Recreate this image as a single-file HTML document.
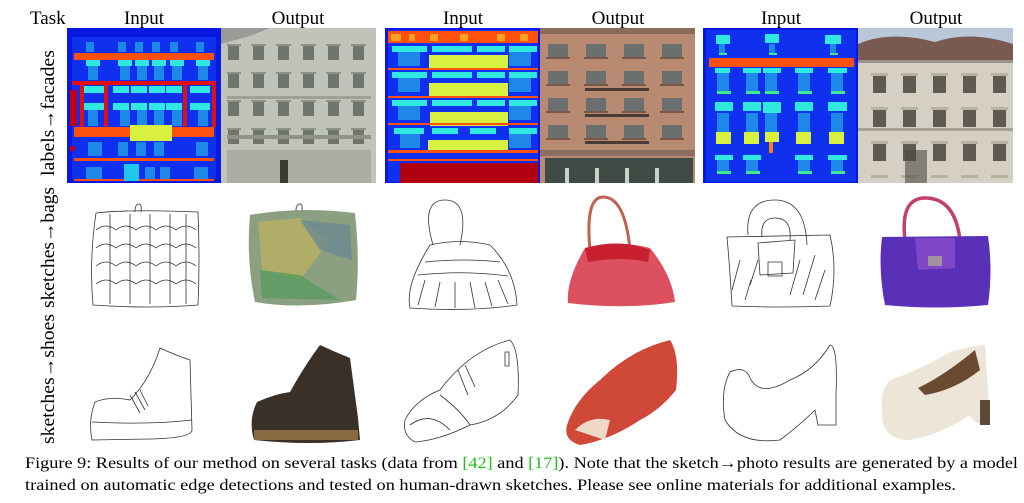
<!DOCTYPE html>
<html><head><meta charset="utf-8"><style>
html,body{margin:0;padding:0;background:#fff;width:1024px;height:503px;overflow:hidden}
svg{display:block}
text{font-family:"Liberation Serif",serif;fill:#000}
</style></head><body>
<svg width="1024" height="503" viewBox="0 0 1024 503" xmlns="http://www.w3.org/2000/svg">
<defs>
<pattern id="win1" x="221" y="40" width="25" height="28" patternUnits="userSpaceOnUse">
<rect x="7" y="6" width="11" height="14" fill="#6f756c"/><rect x="5" y="4" width="15" height="2" fill="#8d9288"/></pattern>
<pattern id="win2" x="540" y="38" width="38" height="27" patternUnits="userSpaceOnUse">
<rect x="8" y="6" width="20" height="13" fill="#6b6f70"/><rect x="6" y="19" width="24" height="2" fill="#7a5848"/></pattern>
<pattern id="win3" x="865" y="68" width="30" height="34" patternUnits="userSpaceOnUse">
<rect x="8" y="8" width="13" height="17" fill="#5d5a52"/><rect x="6" y="5" width="17" height="3" fill="#b9b2a4"/></pattern>
</defs>

<text x="30" y="24" font-size="19">Task</text>
<text x="144" y="24" font-size="19" text-anchor="middle">Input</text>
<text x="298" y="24" font-size="19" text-anchor="middle">Output</text>
<text x="463" y="24" font-size="19" text-anchor="middle">Input</text>
<text x="618" y="24" font-size="19" text-anchor="middle">Output</text>
<text x="781" y="24" font-size="19" text-anchor="middle">Input</text>
<text x="936" y="24" font-size="19" text-anchor="middle">Output</text>

<text transform="translate(54,176) rotate(-90)" font-size="19" textLength="126" lengthAdjust="spacingAndGlyphs">labels→facades</text>
<text transform="translate(54,308) rotate(-90)" font-size="19" textLength="121" lengthAdjust="spacingAndGlyphs">sketches→bags</text>
<text transform="translate(54,444) rotate(-90)" font-size="19" textLength="130" lengthAdjust="spacingAndGlyphs">sketches→shoes</text>

<!-- facade input 1 -->
<rect x="67" y="28" width="154" height="155" fill="#0818e0"/>
<rect x="72" y="37" width="144" height="143" fill="#1030f0"/>
<rect x="74" y="53" width="140" height="7" fill="#ff5010"/>
<g fill="#1e88e8"><rect x="86" y="42" width="8" height="10"/><rect x="118" y="42" width="8" height="10"/><rect x="135" y="42" width="8" height="10"/><rect x="152" y="42" width="8" height="10"/><rect x="170" y="42" width="8" height="10"/><rect x="196" y="42" width="8" height="10"/></g>
<rect x="72" y="81" width="144" height="4" fill="#e01010"/>
<rect x="80" y="81" width="4" height="46" fill="#e01010"/><rect x="104" y="81" width="4" height="46" fill="#e01010"/><rect x="183" y="81" width="4" height="46" fill="#e01010"/><rect x="212" y="81" width="4" height="46" fill="#e01010"/>
<rect x="70" y="90" width="7" height="36" fill="#c00010"/>
<g fill="#30e8e0"><rect x="84" y="86" width="20" height="7"/><rect x="113" y="86" width="16" height="7"/><rect x="131" y="86" width="16" height="7"/><rect x="149" y="86" width="16" height="7"/><rect x="166" y="86" width="16" height="7"/><rect x="190" y="86" width="20" height="7"/>
<rect x="84" y="103" width="20" height="7"/><rect x="113" y="103" width="16" height="7"/><rect x="131" y="103" width="16" height="7"/><rect x="149" y="103" width="16" height="7"/><rect x="166" y="103" width="16" height="7"/><rect x="190" y="103" width="20" height="7"/>
<rect x="86" y="60" width="14" height="6"/><rect x="118" y="60" width="14" height="6"/><rect x="135" y="60" width="14" height="6"/><rect x="152" y="60" width="14" height="6"/><rect x="170" y="60" width="14" height="6"/><rect x="196" y="60" width="14" height="6"/></g>
<g fill="#1e88e8"><rect x="88" y="66" width="10" height="14"/><rect x="120" y="66" width="10" height="14"/><rect x="137" y="66" width="10" height="14"/><rect x="154" y="66" width="10" height="14"/><rect x="172" y="66" width="10" height="14"/><rect x="198" y="66" width="10" height="14"/>
<rect x="88" y="110" width="10" height="16"/><rect x="120" y="110" width="10" height="16"/><rect x="137" y="110" width="10" height="16"/><rect x="154" y="110" width="10" height="16"/><rect x="172" y="110" width="10" height="16"/><rect x="198" y="110" width="10" height="16"/>
<rect x="88" y="142" width="14" height="14"/><rect x="118" y="142" width="10" height="14"/><rect x="136" y="142" width="10" height="14"/><rect x="154" y="142" width="10" height="14"/><rect x="196" y="142" width="12" height="14"/>
<rect x="86" y="167" width="16" height="13"/><rect x="145" y="167" width="10" height="13"/><rect x="160" y="167" width="10" height="13"/><rect x="194" y="167" width="14" height="13"/></g>
<rect x="74" y="127" width="140" height="10" fill="#ff5010"/>
<rect x="130" y="125" width="42" height="16" fill="#d8f040"/>
<rect x="74" y="158" width="140" height="3" fill="#ff5010"/>
<rect x="74" y="179" width="140" height="2" fill="#ff5010"/>
<rect x="124" y="164" width="15" height="17" fill="#20c8f0"/>
<rect x="70" y="146" width="5" height="5" fill="#c00010"/>

<!-- facade output 1 -->
<rect x="221" y="28" width="155" height="155" fill="#bfc3b9"/>
<path d="M221 28 L270 28 L250 36 L221 44Z" fill="#9a9c98"/>
<rect x="227" y="36" width="144" height="147" fill="url(#win1)"/>
<rect x="227" y="96" width="144" height="3" fill="#9ea296"/>
<rect x="227" y="135" width="144" height="4" fill="#8e9288"/>
<rect x="227" y="150" width="144" height="33" fill="#a9ada2"/>
<rect x="280" y="160" width="8" height="23" fill="#3a3a30"/>

<!-- facade input 2 -->
<rect x="385" y="28" width="155" height="155" fill="#0818e0"/>
<rect x="388" y="30" width="150" height="152" fill="#1030f0"/>
<rect x="388" y="31" width="150" height="12" fill="#ff5010"/>
<g fill="#ffa020"><rect x="391" y="34" width="10" height="7"/><rect x="409" y="34" width="6" height="7"/><rect x="430" y="34" width="8" height="7"/><rect x="460" y="34" width="8" height="7"/><rect x="497" y="34" width="8" height="7"/><rect x="520" y="34" width="8" height="7"/></g>
<g fill="#30e8e0"><rect x="392" y="46" width="35" height="6"/><rect x="432" y="46" width="40" height="6"/><rect x="477" y="46" width="28" height="6"/><rect x="509" y="46" width="28" height="6"/>
<rect x="392" y="72" width="35" height="6"/><rect x="432" y="72" width="40" height="6"/><rect x="477" y="72" width="28" height="6"/><rect x="509" y="72" width="28" height="6"/>
<rect x="392" y="100" width="35" height="6"/><rect x="432" y="100" width="40" height="6"/><rect x="477" y="100" width="28" height="6"/><rect x="509" y="100" width="28" height="6"/>
<rect x="394" y="128" width="30" height="6"/><rect x="432" y="128" width="26" height="6"/><rect x="470" y="128" width="26" height="6"/><rect x="509" y="128" width="28" height="6"/></g>
<g fill="#1e88e8"><rect x="398" y="52" width="22" height="14"/><rect x="509" y="52" width="22" height="14"/><rect x="398" y="78" width="22" height="14"/><rect x="509" y="78" width="22" height="14"/><rect x="398" y="106" width="22" height="14"/><rect x="509" y="106" width="22" height="14"/><rect x="400" y="134" width="20" height="14"/><rect x="509" y="134" width="22" height="14"/></g>
<g fill="#d8f040"><rect x="429" y="55" width="79" height="14"/><rect x="429" y="83" width="79" height="14"/><rect x="430" y="112" width="78" height="14"/><rect x="428" y="140" width="80" height="11"/></g>
<g fill="#ff5010"><rect x="388" y="68" width="150" height="2"/><rect x="388" y="96" width="150" height="2"/><rect x="388" y="123" width="150" height="2"/><rect x="388" y="150" width="150" height="3"/><rect x="388" y="159" width="150" height="2"/></g>
<rect x="400" y="163" width="138" height="20" fill="#b00010"/>

<!-- facade output 2 -->
<rect x="540" y="28" width="155" height="155" fill="#b88a72"/>
<rect x="540" y="28" width="155" height="6" fill="#8c6a58"/>
<rect x="540" y="36" width="155" height="112" fill="url(#win2)"/>
<g fill="#4a3a34"><rect x="585" y="88" width="64" height="3"/><rect x="585" y="114" width="64" height="3"/><rect x="585" y="141" width="64" height="3"/></g>
<rect x="540" y="150" width="155" height="6" fill="#8a6e60"/>
<rect x="545" y="158" width="148" height="25" fill="#3f4a44"/>
<g fill="#c8d0c8"><rect x="565" y="168" width="4" height="15"/><rect x="595" y="168" width="4" height="15"/><rect x="625" y="168" width="4" height="15"/><rect x="655" y="168" width="4" height="15"/></g>

<!-- facade input 3 -->
<rect x="703" y="28" width="155" height="155" fill="#0818e0"/>
<rect x="706" y="30" width="150" height="152" fill="#1030f0"/>
<g fill="#30e8e0"><rect x="716" y="35" width="14" height="9"/><rect x="765" y="34" width="14" height="9"/><rect x="825" y="35" width="16" height="9"/>
<rect x="715" y="68" width="15" height="5"/><rect x="743" y="68" width="18" height="5"/><rect x="763" y="68" width="18" height="5"/><rect x="795" y="68" width="18" height="5"/><rect x="828" y="68" width="19" height="5"/>
<rect x="715" y="102" width="18" height="9"/><rect x="743" y="102" width="18" height="9"/><rect x="763" y="102" width="18" height="11"/><rect x="795" y="102" width="18" height="9"/><rect x="828" y="102" width="19" height="9"/>
<rect x="715" y="155" width="18" height="5"/><rect x="743" y="155" width="18" height="5"/><rect x="795" y="155" width="18" height="5"/><rect x="828" y="155" width="19" height="5"/></g>
<g fill="#1e88e8"><rect x="719" y="44" width="6" height="9"/><rect x="769" y="44" width="6" height="9"/><rect x="830" y="44" width="6" height="9"/>
<rect x="717" y="73" width="12" height="18"/><rect x="746" y="73" width="12" height="18"/><rect x="765" y="73" width="12" height="18"/><rect x="798" y="73" width="12" height="18"/><rect x="831" y="73" width="12" height="18"/>
<rect x="717" y="113" width="12" height="19"/><rect x="746" y="113" width="12" height="19"/><rect x="765" y="113" width="12" height="19"/><rect x="798" y="113" width="12" height="19"/><rect x="831" y="113" width="12" height="19"/>
<rect x="717" y="160" width="12" height="11"/><rect x="746" y="160" width="12" height="11"/><rect x="798" y="160" width="12" height="11"/><rect x="831" y="160" width="12" height="11"/></g>
<rect x="709" y="58" width="145" height="9" fill="#ff5010"/>
<g fill="#40e890"><rect x="719" y="53" width="8" height="2"/><rect x="769" y="53" width="8" height="2"/><rect x="830" y="53" width="8" height="2"/><rect x="717" y="91" width="14" height="3"/><rect x="746" y="91" width="14" height="3"/><rect x="765" y="91" width="14" height="3"/><rect x="798" y="91" width="14" height="3"/><rect x="831" y="91" width="14" height="3"/><rect x="717" y="171" width="14" height="3"/><rect x="746" y="171" width="14" height="3"/><rect x="798" y="171" width="14" height="3"/><rect x="831" y="171" width="14" height="3"/></g>
<g fill="#d8f040"><rect x="716" y="132" width="15" height="12"/><rect x="744" y="132" width="15" height="12"/><rect x="765" y="132" width="14" height="10"/><rect x="796" y="132" width="15" height="12"/><rect x="829" y="132" width="15" height="12"/></g>
<rect x="769" y="142" width="4" height="11" fill="#ff8010"/>

<!-- facade output 3 -->
<rect x="858" y="28" width="155" height="155" fill="#d6d0c4"/>
<rect x="858" y="28" width="155" height="16" fill="#b8c8d8"/>
<path d="M858 44 Q890 30 935 42 Q970 30 1013 44 L1013 60 L858 60Z" fill="#7a5a50"/>
<rect x="858" y="60" width="155" height="3" fill="#9a9488"/>
<rect x="862" y="64" width="148" height="114" fill="url(#win3)"/>
<rect x="858" y="128" width="155" height="3" fill="#a8a296"/>
<rect x="905" y="150" width="22" height="33" fill="#4a4a40" opacity="0.6"/>

<!-- bags row -->
<g fill="none" stroke="#333" stroke-width="0.8">
<path d="M96 213 Q130 209 198 212 Q200 260 198 305 Q150 309 93 305 Q89 260 96 213Z"/>
<path d="M135 212 q0-8 4-8 q3 0 2 8"/>
<path d="M96 230 q10 -8 20 0 q10-8 20 0 q10-8 20 0 q10-8 20 0 q10-8 20 0 M96 248 q10-8 20 0 q10-8 20 0 q10-8 20 0 q10-8 20 0 q10-8 20 0 M96 266 q10-8 20 0 q10-8 20 0 q10-8 20 0 q10-8 20 0 q10-8 20 0 M96 284 q10-8 20 0 q10-8 20 0 q10-8 20 0 q10-8 20 0 q10-8 20 0 M110 214 v90 M130 214 v90 M150 214 v90 M170 214 v90 M186 214 v90"/>
<path d="M433 245 Q420 200 445 200 Q470 200 460 245"/>
<path d="M430 245 Q460 238 490 245 Q515 270 517 305 Q470 312 410 308 Q405 285 430 245Z"/>
<path d="M425 262 Q465 258 500 262 M418 275 Q465 270 508 276 M425 280 L418 305 M440 282 L435 307 M455 282 L455 308 M470 282 L475 308 M485 282 L492 306 M498 280 L508 304"/>
<path d="M727 237 L830 235 Q838 270 830 306 Q780 308 732 306 Q730 270 727 237Z"/>
<path d="M748 235 Q745 200 775 200 Q805 200 807 245 M762 237 Q760 218 775 218 Q792 218 790 240"/>
<path d="M758 243 L795 240 L793 273 L760 275Z M768 262 h14 v14 h-14z"/>
<path d="M740 260 l-8 30 M750 285 l8-25 M800 260 l-10 35 M815 255 l-12 40 M825 270 l-10 30 M745 300 l6-20"/>
</g>
<path d="M250 215 Q300 206 355 213 Q360 260 356 300 Q300 310 255 302 Q246 260 250 215Z" fill="#8aa080"/>
<path d="M258 222 L300 218 L330 240 L300 280 L262 270Z" fill="#b8b060" opacity="0.8"/>
<path d="M300 220 L350 225 L352 260 L320 250Z" fill="#6a8890" opacity="0.8"/>
<path d="M260 270 L300 275 L340 300 L262 298Z" fill="#5a9a60" opacity="0.8"/>
<path d="M296 212 q0-8 4-8 q3 0 2 8" fill="none" stroke="#888" stroke-width="1.5"/>
<path d="M590 250 Q585 197 603 197 Q625 197 630 250" fill="none" stroke="#c06050" stroke-width="3"/>
<path d="M585 248 Q620 240 650 248 Q672 275 675 302 Q625 310 568 303 Q566 280 585 248Z" fill="#dc5060"/>
<path d="M585 248 Q620 238 650 250 L648 262 Q620 256 588 262Z" fill="#c82030"/>
<path d="M905 240 Q900 198 925 198 Q955 198 960 240" fill="none" stroke="#c04070" stroke-width="3.5"/>
<path d="M882 237 L988 236 Q993 270 988 305 Q935 310 885 305 Q878 270 882 237Z" fill="#5a30b8"/>
<path d="M915 238 L955 238 L955 268 L918 270Z" fill="#8048c8"/>
<rect x="928" y="256" width="14" height="10" fill="#a090a0"/>

<!-- shoes row -->
<g fill="none" stroke="#333" stroke-width="0.8">
<path d="M95 402 Q110 396 130 400 Q150 380 160 348 Q175 355 190 360 L192 430 Q192 438 150 439 L92 440 Q88 420 95 402Z"/>
<path d="M92 422 Q150 425 192 420 M130 395 l10 18 M135 392 l10 18 M140 390 l8 16"/>
<path d="M405 420 Q415 400 440 390 Q470 350 510 340 Q520 350 518 395 Q500 420 470 425 Q440 440 415 442 Q402 435 405 420Z"/>
<path d="M440 395 Q460 410 470 425 M458 370 l10 25 M465 365 l10 22 M505 352 v14 h4 v-14z M410 425 q20-15 40 5"/>
<path d="M730 372 Q745 365 750 378 Q760 398 790 380 Q815 370 830 345 Q838 345 836 395 L836 425 L818 425 L815 410 Q800 425 780 440 Q740 445 725 420 Q720 390 730 372Z"/>
</g>
<path d="M257 402 Q275 394 290 392 Q305 365 320 345 Q335 352 350 358 L358 418 L360 440 Q310 446 254 440 Q248 420 257 402Z" fill="#3a3028"/>
<rect x="254" y="430" width="104" height="10" fill="#8a6a40"/>
<path d="M567 425 Q575 400 600 380 Q630 350 670 340 Q680 355 676 390 Q660 410 640 420 Q610 440 580 445 Q563 440 567 425Z" fill="#d04838"/>
<path d="M575 430 Q590 415 610 420 L605 440 Z" fill="#f0d8c8"/>
<path d="M890 380 Q920 370 950 352 Q975 345 985 345 L990 420 L985 425 Q975 425 970 415 Q940 435 910 440 Q880 440 882 410 Q880 390 890 380Z" fill="#ede6d8"/>
<path d="M918 388 Q945 375 975 350 L980 370 Q955 390 925 395Z" fill="#6a4a30"/>
<rect x="980" y="400" width="10" height="25" fill="#5a4a3a"/>

<text x="25" y="468" font-size="15.5" textLength="993" lengthAdjust="spacingAndGlyphs">Figure 9: Results of our method on several tasks (data from <tspan fill="#20c020">[42]</tspan> and <tspan fill="#20c020">[17]</tspan>). Note that the sketch→photo results are generated by a model</text>
<text x="25" y="490" font-size="15.5" textLength="931" lengthAdjust="spacingAndGlyphs">trained on automatic edge detections and tested on human-drawn sketches. Please see online materials for additional examples.</text>
</svg>
</body></html>
